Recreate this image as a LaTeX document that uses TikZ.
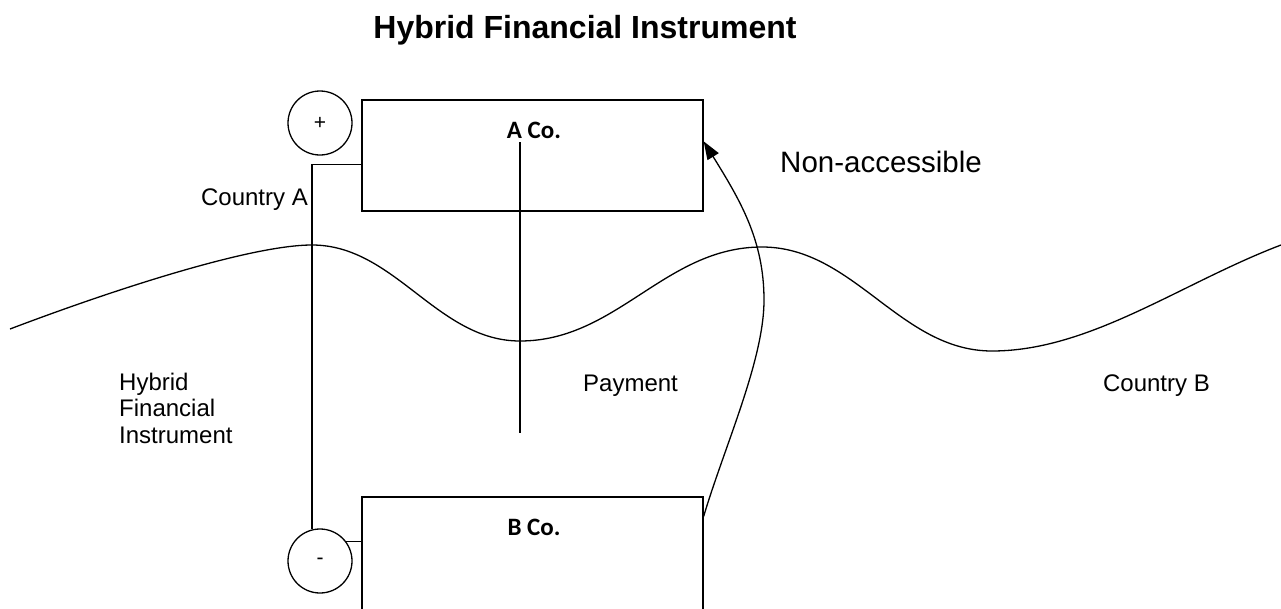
\documentclass[tikz,border=0pt]{standalone}
\usepackage{fontspec}
\setmainfont{Liberation Sans}
\newfontfamily\calibri{Carlito}
\usetikzlibrary{arrows.meta}
\begin{document}
\begin{tikzpicture}[x=1pt,y=-1pt,
  lbl/.style={font=\fontsize{24}{26.5}\selectfont, inner sep=0pt},
  cobox/.style={draw, line width=1.3pt, minimum width=341pt, minimum height=111pt, inner sep=0pt},
  sign/.style={draw, circle, line width=1.3pt, minimum size=64pt, inner sep=0pt, font=\fontsize{21}{24}\selectfont},
  coname/.style={font=\calibri\bfseries\fontsize{25}{30}\selectfont, inner sep=0pt},
  wire/.style={line width=1.3pt}]
\useasboundingbox (0,0) rectangle (1281,608);
% title
\node[font=\bfseries\fontsize{32}{38}\selectfont, inner sep=0pt] (title) at (585,30) {Hybrid Financial Instrument};
% boxes
\node[cobox] (aco) at (532.5,155.5) {};
\node[cobox, minimum height=140pt] (bco) at (532.5,567) {};
\node[coname] (acotxt) at (534,130) {A Co.};
\node[coname] (bcotxt) at (534,527) {B Co.};
% signs
\node[sign] (plus) at (320,123) {+};
\node[sign] (minus) at (320,561) {-};
% wires
\draw[wire] ([yshift=-65pt]aco.north west) -| (minus.104.5);
\draw[wire] (minus.36) -- (minus.36 -| bco.west);
% payment line
\coordinate (paytop) at (520,142);
\coordinate (paybot) at (520,433);
\draw[wire] (paytop) -- (paybot);
% border wave
\draw[wire] (10,329) .. controls (110,291) and (250,245) .. (312,245)
  .. controls (395,245) and (437,341) .. (520,341)
  .. controls (617,341) and (665,247) .. (762,247)
  .. controls (854,247) and (900,351) .. (992,351)
  .. controls (1090,351) and (1181,283) .. (1281,245);
% arrow
\coordinate (arrS) at ([yshift=-20pt]bco.north east);
\coordinate (arrE) at ([yshift=-42pt]aco.north east);
\draw[wire, -{Triangle[length=18pt,width=13pt]}] (arrS) .. controls (725,445) and (764,360) .. (764,300)
  .. controls (764,240) and (740,200) .. (arrE);
% labels
\node[lbl, anchor=base east] (ctyA) at (308,205) {Country A};
\node[lbl, font=\fontsize{29.5}{34}\selectfont, anchor=west] (nacc) at (780,162) {Non-accessible};
\node[lbl, anchor=base west] (pay) at (583,391) {Payment};
\node[lbl, anchor=base east] (ctyB) at (1210,391) {Country B};
\node[lbl, align=left, anchor=west] (hfi) at (119,408) {Hybrid\\Financial\\Instrument};
\end{tikzpicture}
\end{document}
